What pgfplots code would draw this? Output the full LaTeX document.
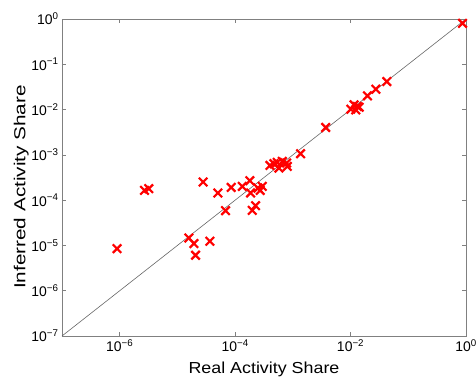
\documentclass[border=0pt]{standalone}
\usepackage{pgfplots}
\pgfplotsset{compat=1.18}
\usepackage{fontspec}
\setmainfont{Liberation Sans}
\usepackage{graphicx}
\newcommand\logtick{\pgfmathtruncatemacro\logexp{round(\tick/2.302585093)}10\textsuperscript{\ifnum\logexp<0 −\number\numexpr-\logexp\relax\else\logexp\fi}}
\begin{document}
\begin{tikzpicture}
\useasboundingbox (0,0) rectangle (476bp,380bp);
\begin{axis}[
  at={(62bp,44bp)}, anchor=south west,
  scale only axis, width=404bp, height=317bp,
  xmode=log, ymode=log,
  xmin=1e-7, xmax=1, ymin=1e-7, ymax=1,
  xtick={1e-6,1e-4,1e-2,1},
  ytick={1e-7,1e-6,1e-5,1e-4,1e-3,1e-2,1e-1,1},
  minor tick style={draw=none},
  tick align=inside, major tick length=4bp,
  axis line style={black!50},
  tick style={black!50, line width=0.6bp},
  xticklabel={\logtick}, yticklabel={\logtick},
  tick label style={font=\fontsize{14}{16}\selectfont},
  label style={font=\fontsize{16}{19}\selectfont},
  xlabel={\scalebox{1.12}[1]{Real Activity Share}},
  ylabel={\scalebox{1.3}[1]{Inferred Activity Share}},
  xlabel style={at={([yshift=-37bp]rel axis cs:0.5,0)}, anchor=base},
  ylabel style={at={([xshift=-36.5bp,yshift=-9.5bp]rel axis cs:0,0.5)}, anchor=base},
]
\addplot[black!60, line width=0.6bp] coordinates {(1e-7,1e-7) (1,1)};
\addplot[only marks, mark=x, mark size=6bp, red, mark options={line width=2.2bp}] coordinates {
(0.871,0.802)
(0.0425,0.0416)
(0.0274,0.0282)
(0.0196,0.0201)
(0.0101,0.0102)
(0.0115,0.0127)
(0.0131,0.0117)
(0.0123,0.00987)
(0.0141,0.0113)
(0.00371,0.00402)
(0.00136,0.00106)
(0.000401,0.000585)
(0.000471,0.000637)
(0.000574,0.000511)
(0.000656,0.000716)
(0.000780,0.000659)
(0.000537,0.000681)
(0.000802,0.000556)
(0.000180,0.000269)
(0.000133,0.000201)
(8.55e-5,0.000191)
(0.000185,0.000144)
(0.000248,0.000185)
(0.000272,0.000164)
(0.000295,0.000201)
(5.02e-5,0.000144)
(2.79e-5,0.000251)
(0.000226,7.55e-5)
(0.000198,5.96e-5)
(6.82e-5,5.86e-5)
(2.69e-6,0.000164)
(3.19e-6,0.000179)
(9.0e-7,8.5e-6)
(1.58e-5,1.46e-5)
(1.93e-5,1.10e-5)
(2.06e-5,6.07e-6)
(3.65e-5,1.24e-5)
};
\end{axis}
\end{tikzpicture}
\end{document}
